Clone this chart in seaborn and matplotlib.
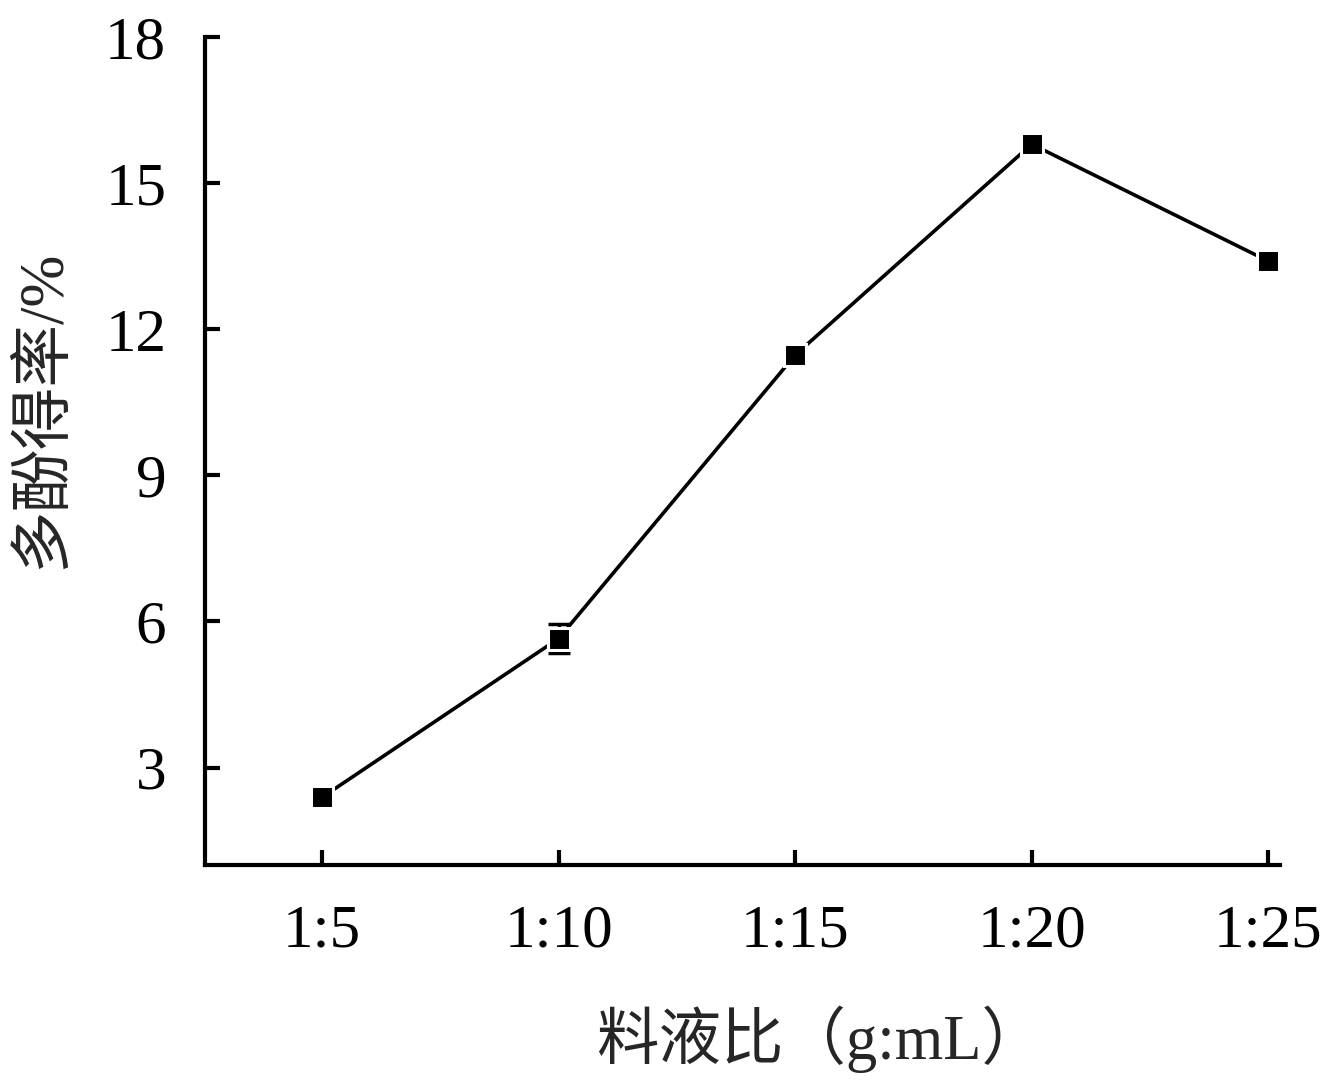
import matplotlib
matplotlib.use("Agg")
import matplotlib.pyplot as plt
import seaborn as sns
import pandas as pd

# data
ratios = ["1:5", "1:10", "1:15", "1:20", "1:25"]
yield_pct = [2.39, 5.65, 11.47, 15.8, 13.4]
yield_err = [0.1, 0.29, 0.12, 0.1, 0.1]

df = pd.DataFrame({"pos": range(len(ratios)), "yield": yield_pct})

sns.set_style("ticks")
plt.rcParams["font.family"] = ["Liberation Serif", "Noto Sans CJK SC"]
plt.rcParams["xtick.direction"] = "in"
plt.rcParams["ytick.direction"] = "in"

fig = plt.figure(figsize=(13.27, 10.83), dpi=100)
ax = fig.add_axes([0.1545, 0.2013, 0.8101, 0.7645])

ax.errorbar(df["pos"], df["yield"], yerr=yield_err, fmt="none",
            ecolor="black", elinewidth=2.5, capsize=8, capthick=2.5, zorder=2)
sns.lineplot(data=df, x="pos", y="yield", ax=ax, color="black", lw=2.6,
             marker="s", markersize=16, markeredgecolor="white",
             markeredgewidth=2.2, markerfacecolor="black", zorder=3)

ax.set_xlim(-0.495, 4.05)
ax.set_ylim(1, 18)
ax.set_xticks(range(len(ratios)))
ax.set_xticklabels(ratios)
ax.set_yticks([3, 6, 9, 12, 15, 18])

sns.despine(ax=ax)
for s in ["left", "bottom"]:
    ax.spines[s].set_linewidth(3)
    ax.spines[s].set_color("black")
ax.tick_params(axis="y", direction="in", length=11, width=3, colors="black",
               labelsize=44, pad=28)
ax.tick_params(axis="x", direction="in", length=11, width=3, colors="black",
               labelsize=44, pad=28)

ax.set_xlabel("料液比（g:mL）", fontsize=45)
ax.set_ylabel("多酚得率/%", fontsize=45)
ax.xaxis.set_label_coords(0.572, -0.21)
ax.yaxis.set_label_coords(-0.15, 0.55)
ax.xaxis.label.set_va("center")
ax.yaxis.label.set_va("center")

fig.savefig("out.png", dpi=100, facecolor="white")
